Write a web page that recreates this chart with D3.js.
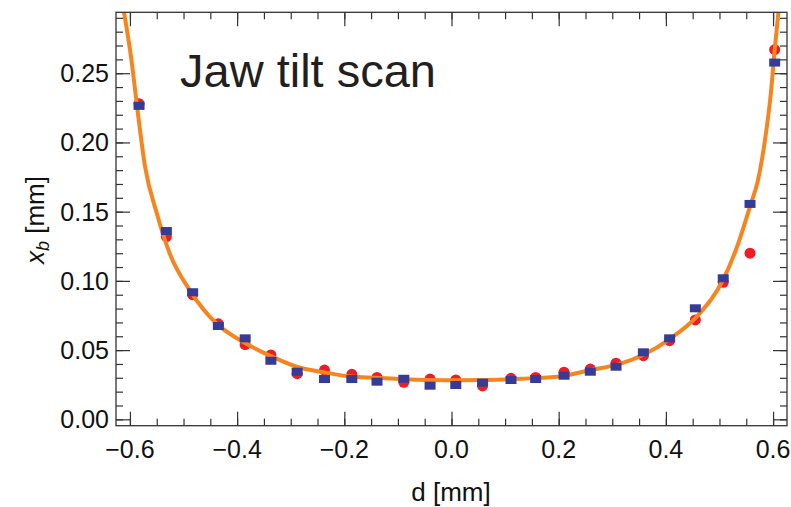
<!DOCTYPE html>
<html>
<head>
<meta charset="utf-8">
<script src="https://cdn.jsdelivr.net/npm/d3@7"></script>
<style>
  body { margin: 0; background: #fff; }
  svg { display: block; font-family: "Liberation Sans", Arial, sans-serif; }
  .tick line { stroke: #333; stroke-width: 1.2; }
</style>
</head>
<body>
<div id="chart"></div>
<script>
// 측정 위치 d [mm]
var dValues = [-0.583, -0.532, -0.483, -0.435, -0.385, -0.337, -0.288, -0.237, -0.186, -0.139,
  -0.089, -0.040, 0.008, 0.058, 0.111, 0.157, 0.210, 0.259, 0.307, 0.358,
  0.407, 0.455, 0.507, 0.557, 0.603];

// 빨간 원 시리즈
var redValues = [0.228, 0.132, 0.090, 0.069, 0.054, 0.0465, 0.033, 0.0356, 0.0325, 0.0303,
  0.0267, 0.0291, 0.0284, 0.0241, 0.0296, 0.0303, 0.034, 0.0363, 0.0405, 0.046,
  0.0568, 0.0718, 0.099, 0.120, 0.267];

// 파란 사각형 시리즈
var blueValues = [0.2264, 0.136, 0.0918, 0.0674, 0.0585, 0.0423, 0.0344, 0.0291, 0.0291, 0.0272,
  0.0293, 0.0243, 0.0248, 0.0265, 0.0284, 0.0291, 0.0315, 0.0344, 0.038, 0.0484,
  0.0585, 0.0802, 0.1019, 0.1556, 0.2577];

// 피팅 곡선 (그림에서 읽은 점)
var fitD = [-0.611, -0.597, -0.587, -0.572, -0.550, -0.527, -0.488, -0.438, -0.389, -0.339,
  -0.289, -0.239, -0.190, -0.140, -0.090, -0.040, 0.010, 0.065, 0.130, 0.202,
  0.260, 0.314, 0.360, 0.407, 0.457, 0.507, 0.535, 0.558, 0.572, 0.585,
  0.596, 0.603, 0.610];
var fitX = [0.294, 0.259, 0.227, 0.183, 0.149, 0.121, 0.093, 0.069, 0.056, 0.046,
  0.038, 0.034, 0.031, 0.030, 0.029, 0.0284, 0.0282, 0.0284, 0.0293, 0.031,
  0.0356, 0.040, 0.047, 0.058, 0.074, 0.101, 0.127, 0.155, 0.173, 0.202,
  0.236, 0.267, 0.294];

var xTicks = [-0.6, -0.4, -0.2, 0.0, 0.2, 0.4, 0.6];
var yTicks = [0.00, 0.05, 0.10, 0.15, 0.20, 0.25];

var frameL = 116, frameR = 787, frameT = 12.3, frameB = 425.7;

var svg = d3.select("#chart")
    .append("svg")
    .attr("width", 791)
    .attr("height", 507);

var x = d3.scaleLinear().domain([-0.626, 0.626]).range([frameL, frameR]);
var y = d3.scaleLinear().domain([-0.0046, 0.294]).range([frameB, frameT]);

var xMinor = d3.range(-12, 13).map(function (i) { return i * 0.05; });
var yMinor = d3.range(0, 30).map(function (i) { return i * 0.01; });

// 눈금 그리기 (안쪽 방향)
function drawTicks() {
    var defs = [
        { axis: d3.axisBottom(x), tr: "translate(0," + frameB + ")", major: xTicks, minor: xMinor },
        { axis: d3.axisTop(x), tr: "translate(0," + frameT + ")", major: xTicks, minor: xMinor },
        { axis: d3.axisLeft(y), tr: "translate(" + frameL + ",0)", major: yTicks, minor: yMinor },
        { axis: d3.axisRight(y), tr: "translate(" + frameR + ",0)", major: yTicks, minor: yMinor }
    ];
    defs.forEach(function (d) {
        var gMinor = svg.append("g").attr("transform", d.tr)
            .call(d.axis.tickValues(d.minor).tickSize(-7).tickFormat(""));
        gMinor.select(".domain").remove();
        var gMajor = svg.append("g").attr("transform", d.tr)
            .call(d.axis.tickValues(d.major).tickSize(-14).tickFormat(""));
        gMajor.select(".domain").remove();
    });
}

drawTicks();

// 피팅 곡선
svg.append("clipPath").attr("id", "plotClip")
    .append("rect")
    .attr("x", frameL).attr("y", frameT)
    .attr("width", frameR - frameL).attr("height", frameB - frameT);

var fitPts = fitD.map(function (d, i) { return [d, fitX[i]]; });
var pts1 = dValues.map(function (d, i) { return [d, redValues[i]]; });
var pts2 = dValues.map(function (d, i) { return [d, blueValues[i]]; });

var plot = svg.append("g").attr("clip-path", "url(#plotClip)");

plot.selectAll(".red")
    .data(pts1)
    .enter()
    .append("circle")
    .attr("class", "red")
    .attr("cx", function (d) { return x(d[0]); })
    .attr("cy", function (d) { return y(d[1]); })
    .attr("r", 5.5)
    .style("fill", "#ee1c25");

plot.append("path")
    .datum(fitPts)
    .attr("d", d3.line()
        .x(function (d) { return x(d[0]); })
        .y(function (d) { return y(d[1]); })
        .curve(d3.curveMonotoneX))
    .style("fill", "none")
    .style("stroke", "#f7851f")
    .style("stroke-width", 4);

plot.selectAll(".blue")
    .data(pts2)
    .enter()
    .append("rect")
    .attr("class", "blue")
    .attr("x", function (d) { return x(d[0]) - 5.5; })
    .attr("y", function (d) { return y(d[1]) - 4; })
    .attr("width", 11)
    .attr("height", 8)
    .style("fill", "#363b98");

// 프레임
svg.append("rect")
    .attr("x", frameL).attr("y", frameT)
    .attr("width", frameR - frameL).attr("height", frameB - frameT)
    .style("fill", "none")
    .style("stroke", "#333")
    .style("stroke-width", 1.3);

// 눈금 라벨
svg.selectAll(".xlab")
    .data(xTicks)
    .enter()
    .append("text")
    .attr("x", function (d) { return x(d); })
    .attr("y", 458)
    .attr("text-anchor", "middle")
    .style("font-size", "25px")
    .style("fill", "#111")
    .text(function (d) { return d < 0 ? "\u2212" + Math.abs(d).toFixed(1) : d.toFixed(1); });

svg.selectAll(".ylab")
    .data(yTicks)
    .enter()
    .append("text")
    .attr("x", 109)
    .attr("y", function (d) { return y(d) + 9; })
    .attr("text-anchor", "end")
    .style("font-size", "25px")
    .style("fill", "#111")
    .text(function (d) { return d.toFixed(2); });

// 축 제목
svg.append("text")
    .attr("x", 451)
    .attr("y", 501)
    .attr("text-anchor", "middle")
    .style("font-size", "26px")
    .style("fill", "#111")
    .text("d [mm]");

var yTitle = svg.append("text")
    .attr("transform", "translate(44,220) rotate(-90)")
    .attr("text-anchor", "middle")
    .style("font-size", "26px")
    .style("fill", "#111");
yTitle.append("tspan").style("font-style", "italic").text("x");
yTitle.append("tspan").style("font-style", "italic").style("font-size", "18px").attr("dy", 5).text("b");
yTitle.append("tspan").attr("dy", -5).text(" [mm]");

// 그림 제목
svg.append("text")
    .attr("x", 180)
    .attr("y", 87)
    .style("font-size", "47px")
    .style("fill", "#231f20")
    .text("Jaw tilt scan");
</script>
</body>
</html>
